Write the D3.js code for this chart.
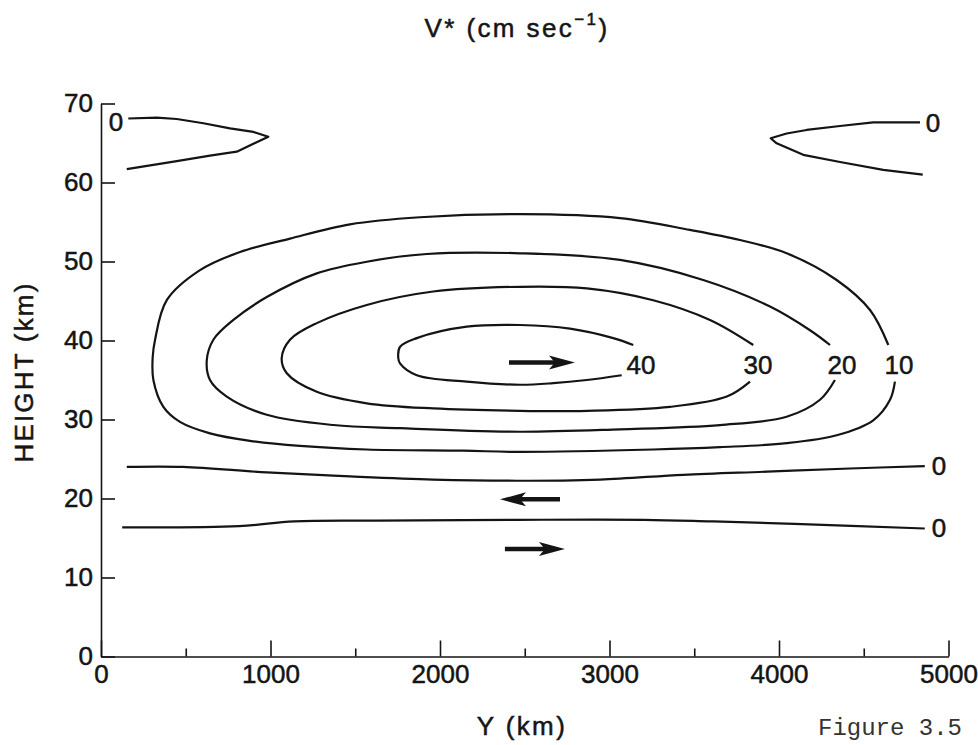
<!DOCTYPE html>
<html><head><meta charset="utf-8">
<script src="https://cdn.jsdelivr.net/npm/d3@7"></script>
<style>
html,body{margin:0;padding:0;background:#fff;}
svg text{fill:#161616;}
</style></head><body>
<svg id="c" width="978" height="745"></svg>
<script>
// ---- data (Y in km, height in km) ----
const xTicks = [0, 1000, 2000, 3000, 4000, 5000];
const xMinorTicks = [500, 1500, 2500, 3500, 4500];
const yTicks = [0, 10, 20, 30, 40, 50, 60, 70];

const contour10 = [[4645,39.43],[4537,43.86],[4340,47.66],[4045,51.04],[3770,52.72],[3475,54.0],[3062,55.5],[2472,56.0],[1882,55.6],[1469,54.7],[1115,52.9],[820,51.2],[584,48.9],[388,45.1],[319,40.1],[305,37.9],[309,35.0],[368,31.6],[466,29.7],[643,28.25],[879,27.3],[1174,26.65],[1568,26.2],[2136,26.05],[2472,25.9],[3258,26.2],[3652,26.5],[4045,27.0],[4340,28.0],[4556,29.9],[4655,32.5],[4684,34.8]];
const contour20 = [[4301,39.43],[4183,41.3],[3947,44.3],[3553,47.66],[3062,50.2],[2472,51.04],[1922,50.95],[1568,49.97],[1273,48.5],[978,45.5],[781,42.6],[663,40.1],[624,37.5],[643,35.0],[742,32.9],[978,30.6],[1371,29.3],[1764,28.9],[2472,28.45],[3062,28.76],[3652,29.3],[4045,30.35],[4242,32.5],[4330,35.0]];
const contour30 = [[3848,39.43],[3593,42.6],[3258,45.1],[2866,46.6],[2472,46.8],[1960,46.2],[1568,44.5],[1273,42.2],[1115,40.1],[1066,37.75],[1096,35.85],[1273,33.5],[1568,32.05],[1960,31.4],[2472,31.1],[2866,31.1],[3357,31.6],[3692,32.9],[3829,34.8]];
const contour40 = [[3140,39.43],[3022,40.3],[2767,41.5],[2472,41.96],[2158,41.75],[1863,40.3],[1764,39.2],[1754,37.75],[1764,37.1],[1863,35.6],[2158,34.8],[2472,34.4],[2668,34.6],[2866,35.0],[3072,35.6]];
const zeroTopLeft = [[161,68.1],[329,68.2],[447,68.04],[604,67.5],[761,66.86],[899,66.4],[987,65.8],[801,63.9],[643,63.4],[447,62.7],[152,61.7]];
const zeroTopRight = [[4832,67.6],[4556,67.6],[4360,67.15],[4163,66.65],[4045,66.2],[3951,65.6],[3986,64.96],[4143,63.5],[4360,62.6],[4615,61.6],[4848,61.0]];
const zeroUpper = [[152,24.0],[484,24.0],[979,23.3],[1470,22.8],[1960,22.4],[2455,22.25],[2945,22.4],[3435,23.0],[3930,23.4],[4420,23.8],[4860,24.1]];
const zeroLower = [[125,16.35],[814,16.5],[1140,17.1],[1633,17.2],[2455,17.3],[3205,17.3],[3600,17.1],[4090,16.8],[4860,16.2]];

const contourLabels = ["40", "30", "20", "10", "0", "0", "0", "0"];
const labelY = [3186, 3876, 4372, 4708, 88, 4909, 4944, 4944];
const labelH = [37.0, 37.0, 37.0, 37.0, 67.7, 67.6, 24.1, 16.3];

const arrowFrom = [2407, 2708, 2383];
const arrowTo   = [2796, 2354, 2737];
const arrowH    = [37.2, 19.9, 13.6];

// ---- drawing ----
const SANS = '"Liberation Sans", Arial, Helvetica, sans-serif';
const MONO = '"Liberation Mono", "DejaVu Sans Mono", monospace';
const svg = d3.select("#c");
const x = d3.scaleLinear().domain([0, 5000]).range([101, 948.5]);
const y = d3.scaleLinear().domain([0, 70]).range([656.5, 103.5]);
const INK = "#141414";

// axes
const gx = svg.append("g").attr("transform", `translate(0,${y(0)})`)
  .call(d3.axisBottom(x).tickValues(xTicks).tickSize(-16).tickSizeOuter(0).tickPadding(8).tickFormat(d3.format("d")));
const gxm = svg.append("g").attr("transform", `translate(0,${y(0)})`)
  .call(d3.axisBottom(x).tickValues(xMinorTicks).tickSize(-8).tickFormat(""));
gxm.select(".domain").remove();
const gy = svg.append("g").attr("transform", `translate(${x(0)},0)`)
  .call(d3.axisLeft(y).tickValues(yTicks).tickSize(-14).tickSizeOuter(0).tickPadding(8));
[gx, gxm, gy].forEach(g => {
  g.selectAll("path,line").attr("stroke", INK).attr("stroke-width", 1.6);
  g.selectAll("text").style("font-family", SANS).style("font-size", "26px").style("fill", INK)
   .attr("stroke", INK).attr("stroke-width", 0.5);
});

// contours
const smooth = d3.line().x(d => x(d[0])).y(d => y(d[1])).curve(d3.curveCatmullRom.alpha(0.5));
const straight = d3.line().x(d => x(d[0])).y(d => y(d[1])).curve(d3.curveLinear);
[contour10, contour20, contour30, contour40, zeroUpper, zeroLower].forEach(c => {
  svg.append("path").attr("d", smooth(c)).attr("fill", "none").attr("stroke", INK).attr("stroke-width", 2.2).attr("stroke-linejoin", "round");
});
[zeroTopLeft, zeroTopRight].forEach(c => {
  svg.append("path").attr("d", straight(c)).attr("fill", "none").attr("stroke", INK).attr("stroke-width", 2.2).attr("stroke-linejoin", "round");
});

// contour labels
contourLabels.forEach((t, i) => {
  svg.append("text").attr("x", x(labelY[i])).attr("y", y(labelH[i]))
    .attr("text-anchor", "middle").attr("dy", "0.36em")
    .style("font-family", SANS).style("font-size", "26px")
    .attr("stroke", INK).attr("stroke-width", 0.5).text(t);
});

// arrows
arrowFrom.forEach((f, i) => {
  const x1 = x(f), x2 = x(arrowTo[i]), yy = y(arrowH[i]);
  const dir = Math.sign(x2 - x1);
  svg.append("line").attr("x1", x1).attr("x2", x2 - dir * 18).attr("y1", yy).attr("y2", yy)
    .attr("stroke", INK).attr("stroke-width", 4.5);
  svg.append("path").attr("d",
    `M${x2},${yy} L${x2 - dir * 26},${yy - 7} L${x2 - dir * 20},${yy} L${x2 - dir * 26},${yy + 7} Z`)
    .attr("fill", INK);
});

// titles
const title = svg.append("text").attr("x", 517).attr("y", 37).attr("text-anchor", "middle")
  .style("font-family", SANS).style("font-size", "26px").attr("letter-spacing", 2.4)
  .attr("stroke", INK).attr("stroke-width", 0.5);
title.append("tspan").text("V* (cm sec");
title.append("tspan").attr("dy", -12).style("font-size", "17px").text("\u22121");
title.append("tspan").attr("dy", 12).text(")");

svg.append("text").attr("x", 522).attr("y", 735).attr("text-anchor", "middle")
  .style("font-family", SANS).style("font-size", "26px").attr("letter-spacing", 2.4)
  .attr("stroke", INK).attr("stroke-width", 0.5).text("Y (km)");

svg.append("text").attr("transform", "translate(33,372) rotate(-90)").attr("text-anchor", "middle")
  .style("font-family", SANS).style("font-size", "26px").attr("letter-spacing", 2.2)
  .attr("stroke", INK).attr("stroke-width", 0.5).text("HEIGHT (km)");

svg.append("text").attr("x", 818).attr("y", 735)
  .style("font-family", MONO).style("font-size", "24px").style("fill", "#333").text("Figure 3.5");
</script>
</body></html>
